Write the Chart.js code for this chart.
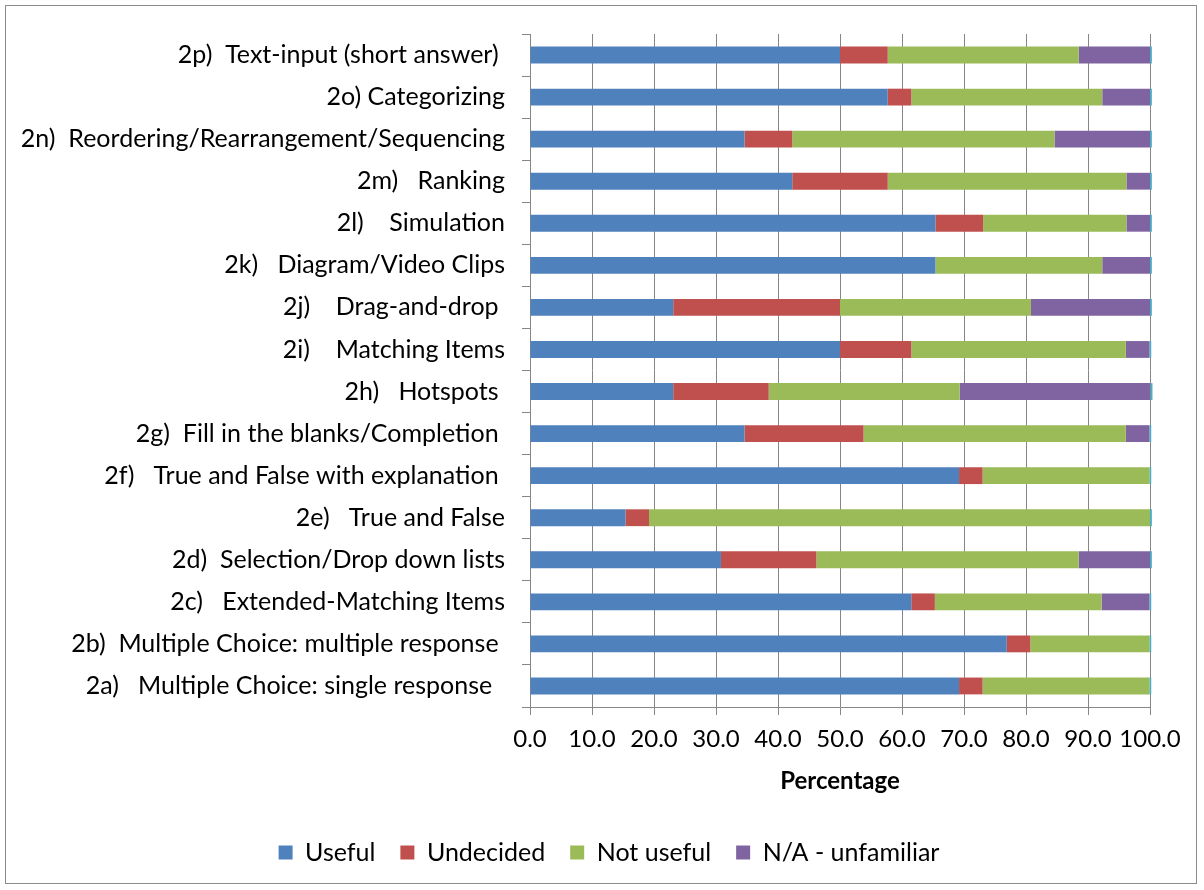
<!DOCTYPE html>
<html>
<head>
<meta charset="utf-8">
<script src="https://cdn.jsdelivr.net/npm/chart.js@4"></script>
<style>
  body { margin: 0; background: #fff; }
  #wrap { position: absolute; left: 0; top: 0; width: 1204px; height: 890px; }
</style>
</head>
<body>
<div id="wrap"><canvas id="chart" width="1204" height="890"></canvas></div>
<script>
// categories listed bottom-up (2a first), axis is reversed so 2a sits at the bottom
var categories = [
    '2a)   Multiple Choice: single response  ',
    '2b)  Multiple Choice: multiple response ',
    '2c)   Extended-Matching Items',
    '2d)  Selection/Drop down lists',
    '2e)   True and False',
    '2f)   True and False with explanation ',
    '2g)  Fill in the blanks/Completion ',
    '2h)   Hotspots ',
    '2i)    Matching Items',
    '2j)    Drag-and-drop ',
    '2k)   Diagram/Video Clips',
    '2l)    Simulation',
    '2m)   Ranking',
    '2n)  Reordering/Rearrangement/Sequencing',
    '2o) Categorizing',
    '2p)  Text-input (short answer) '
];

var useful    = [69.2, 76.9, 61.5, 30.8, 15.4, 69.2, 34.6, 23.1, 50.0, 23.1, 65.4, 65.4, 42.3, 34.6, 57.7, 50.0];
var undecided = [3.8, 3.8, 3.8, 15.4, 3.8, 3.8, 19.2, 15.4, 11.5, 26.9, 0, 7.7, 15.4, 7.7, 3.8, 7.7];
var notUseful = [26.9, 19.2, 26.9, 42.3, 80.8, 26.9, 42.3, 30.8, 34.6, 30.8, 26.9, 23.1, 38.5, 42.3, 30.8, 30.8];
var unfamiliar = [0, 0, 7.7, 11.5, 0, 0, 3.8, 30.8, 3.8, 19.2, 7.7, 3.8, 3.8, 15.4, 7.7, 11.5];
// thin sliver visible at the end of every bar (unlabelled series)
var extra = [0.3, 0.3, 0.3, 0.3, 0.3, 0.3, 0.3, 0.3, 0.3, 0.3, 0.3, 0.3, 0.3, 0.3, 0.3, 0.3];

var xTicks = [0, 10, 20, 30, 40, 50, 60, 70, 80, 90, 100];

var FONT = 'Lato, "Open Sans", sans-serif';
var GRID = '#868686';

var frame = {
    id: 'frame',
    beforeDraw: function(chart) {
        var c = chart.ctx;
        c.save();
        c.fillStyle = '#fff';
        c.fillRect(0, 0, chart.width, chart.height);
        c.strokeStyle = '#8c8c8c';
        c.lineWidth = 1;
        c.strokeRect(5.5, 5.5, 1191, 878);
        c.restore();
    },
    // centre the legend on the whole frame, not just the padded area
    afterLayout: function(chart) {
        if (chart.legend) {
            chart.legend.right += 68;
            chart.legend.width += 68;
        }
    }
};

function bar(label, data, color) {
    return {
        label: label,
        data: data,
        backgroundColor: color,
        borderWidth: 0,
        categoryPercentage: 1.0,
        barPercentage: 0.4
    };
}

var ctx = document.getElementById('chart').getContext('2d');
new Chart(ctx, {
    type: 'bar',
    data: {
        labels: categories,
        datasets: [
            bar('Useful', useful, '#4F81BD'),
            bar('Undecided', undecided, '#C0504D'),
            bar('Not useful', notUseful, '#9BBB59'),
            bar('N/A - unfamiliar', unfamiliar, '#8064A2'),
            Object.assign(bar('', extra, '#4BACC6'), { clip: false })
        ]
    },
    plugins: [frame],
    options: {
        responsive: false,
        animation: false,
        indexAxis: 'y',
        layout: { padding: { top: 34, right: 54, bottom: 15, left: 0 } },
        scales: {
            x: {
                stacked: true,
                min: 0,
                max: 100,
                afterBuildTicks: function(scale) {
                    scale.ticks = xTicks.map(function(v) { return { value: v }; });
                },
                afterFit: function(scale) { scale.height = 108; },
                ticks: {
                    color: '#000',
                    font: { family: FONT, size: 24 },
                    padding: 10,
                    maxRotation: 0,
                    autoSkip: false,
                    callback: function(v) { return Number(v).toFixed(1); }
                },
                grid: { color: GRID, lineWidth: 1, tickLength: 8, drawTicks: true },
                border: { color: GRID, width: 1 },
                title: {
                    display: true,
                    text: 'Percentage',
                    color: '#000',
                    font: { family: FONT, size: 24, weight: 'bold' },
                    padding: { top: 0, bottom: 19 }
                }
            },
            y: {
                stacked: true,
                reverse: true,
                afterFit: function(scale) { scale.width = 530; },
                ticks: {
                    color: '#000',
                    font: { family: FONT, size: 25 },
                    padding: 17,
                    autoSkip: false
                },
                grid: { offset: true, drawOnChartArea: false, color: GRID, tickLength: 8 },
                border: { color: GRID, width: 1 }
            }
        },
        plugins: {
            legend: {
                position: 'bottom',
                labels: {
                    color: '#000',
                    font: { family: FONT, size: 25 },
                    boxWidth: 14,
                    boxHeight: 14,
                    padding: 25,
                    filter: function(item) { return item.text !== ''; }
                }
            },
            tooltip: { enabled: false }
        }
    }
});
</script>
</body>
</html>
